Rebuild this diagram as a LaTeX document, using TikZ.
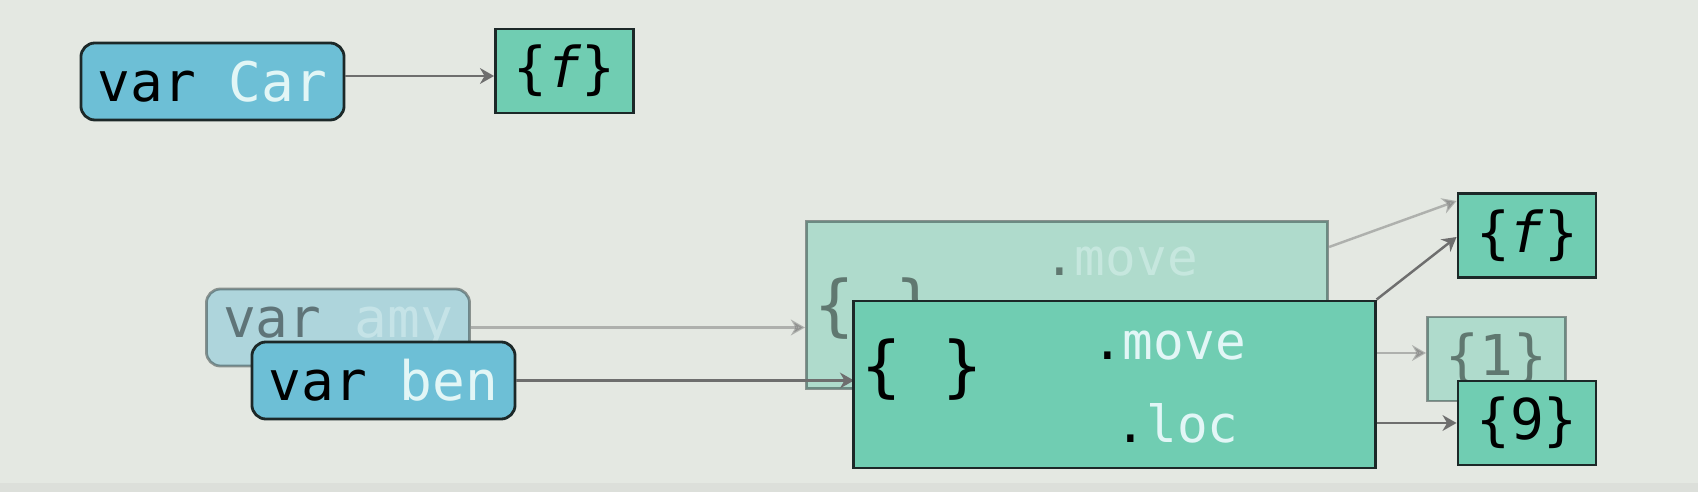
\documentclass[tikz,border=0pt]{standalone}
\usepackage{fontspec}
\newfontfamily\codefont{DejaVu Sans Mono}
\usetikzlibrary{arrows.meta}

\definecolor{bgcol}{HTML}{E4E8E2}
\definecolor{bandcol}{HTML}{DCDFDA}
\definecolor{varblue}{HTML}{6DBFD6}
\definecolor{objgreen}{HTML}{70CDB2}
\definecolor{edgecol}{HTML}{1C2828}
\definecolor{arrowgray}{HTML}{6E6E6E}
\definecolor{namecol}{HTML}{E2F6F6}

\tikzset{
  varbox/.style={draw=edgecol, line width=0.8pt, fill=varblue, rounded corners=4pt,
    minimum width=2.63cm, minimum height=0.77cm, inner sep=0pt,
    font=\codefont\fontsize{15.5}{18}\selectfont},
  valbox/.style={draw=edgecol, line width=0.8pt, fill=objgreen, inner sep=0pt,
    minimum width=1.38cm, minimum height=0.84cm,
    font=\codefont\fontsize{16}{18}\selectfont},
  objbox/.style={draw=edgecol, line width=0.8pt, fill=objgreen,
    minimum width=5.21cm, minimum height=1.67cm},
  bracetext/.style={inner sep=0pt, font=\codefont\fontsize{19}{22}\selectfont},
  fieldtext/.style={inner sep=0pt, text=namecol, font=\codefont\fontsize{14.5}{17}\selectfont},
  faded/.style={opacity=0.45},
  arr/.style={-{Stealth[length=4pt,width=4.5pt]}, draw=arrowgray, line width=0.7pt}
}

\begin{document}
\begin{tikzpicture}[x=0.01cm, y=-0.01cm]

% Background and bottom band
\useasboundingbox (0,0) rectangle (1698,492);
\fill[bgcol] (0,0) rectangle (1698,492);
\fill[bandcol] (0,483) rectangle (1698,492);

% The class variable and its function object
\node[varbox] (car) at (212.5,81.5) {var \textcolor{namecol}{Car}};
\node[valbox] (carfn) at (564.5,71) {\{\textit{f}\}};
\draw[arr] (car.east |- 0,76) -- (carfn.west |- 0,76);

% Shared function and the values
\node[valbox] (fn) at (1527,235.5) {\{\textit{f}\}};
\node[valbox, faded] (one) at (1496.5,359) {\{1\}};

% Old object (faded) and amy
\node[objbox, faded] (oldobj) at (1067,305) {};
\node[bracetext, faded] (oldbr) at (875,309) {\{ \}};
\node[fieldtext, faded] (oldmove) at (1121,262) {\textcolor{black}{.}move};
\node[varbox, faded] (amy) at (338,327.5) {var \textcolor{namecol}{amy}};
\draw[arr, faded] (amy.east) -- (oldobj.west |- amy.east);
\draw[arr, faded] (oldobj.east |- 0,247) -- (fn.west |- 0,201);

% New object and ben
\node[varbox] (ben) at (383.5,380.5) {var \textcolor{namecol}{ben}};
\draw[arr] (ben.east) -- (854,380.5);
\node[objbox] (obj) at (1114.5,384.5) {};
\node[bracetext] (objbr) at (922,370) {\{ \}};
\node[fieldtext] (objmove) at (1169,346) {\textcolor{black}{.}move};
\node[fieldtext] (objloc) at (1177,423) {\textcolor{black}{.}loc};

% Value for the new location
\node[valbox] (nine) at (1527,423) {\{9\}};

% Links from the new object
\draw[arr] (obj.north east) -- (fn.west |- 0,237);
\draw[arr, faded] (obj.east |- 0,353) -- (one.west |- 0,353);
\draw[arr] (obj.east |- nine.west) -- (nine.west);

\end{tikzpicture}
\end{document}
